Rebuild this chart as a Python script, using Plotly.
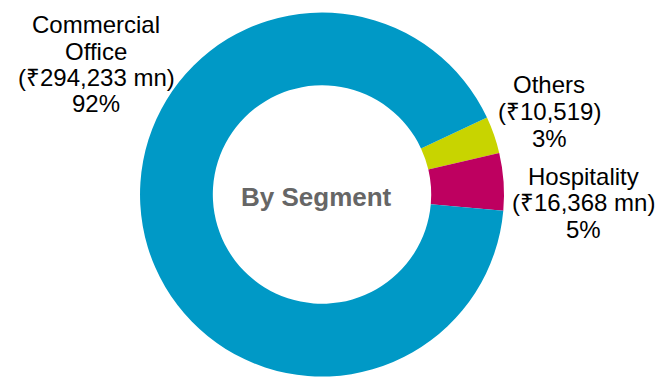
import plotly.graph_objects as go

# Segment breakdown (₹ million)
segments = ["Others", "Hospitality", "Commercial Office"]
values = [10519, 16368, 294233]
value_suffix = ["", " mn", " mn"]
label_lines = [["Others"], ["Hospitality"], ["Commercial", "Office"]]
colors = ["#C8D400", "#BE0060", "#0099C6"]

W, H = 658, 377
total = sum(values)

fig = go.Figure(
    go.Pie(
        labels=segments,
        values=values,
        sort=False,
        direction="clockwise",
        rotation=65,
        hole=0.6,
        marker=dict(colors=colors, line=dict(color="white", width=0)),
        textinfo="none",
        hoverinfo="label+value+percent",
        showlegend=False,
        domain=dict(x=[0.2128, 0.766], y=[0.0, 0.968]),
    )
)

# label blocks: (centre x px, first line y px, line step px)
label_pos = [(549, 85, 26.5), (583, 176, 26.5), (96, 25, 26.3)]

annotations = []
for i, seg in enumerate(segments):
    pct = round(values[i] / total * 100)
    lines = label_lines[i] + [f"(₹{values[i]:,}{value_suffix[i]})", f"{pct}%"]
    cx, y0, step = label_pos[i]
    for k, line in enumerate(lines):
        annotations.append(
            dict(
                text=line,
                x=cx / W,
                y=1 - (y0 + k * step) / H,
                xref="paper",
                yref="paper",
                xanchor="center",
                yanchor="middle",
                showarrow=False,
                font=dict(family="Liberation Sans, Arial, sans-serif", size=24, color="#000000"),
            )
        )

annotations.append(
    dict(
        text="<b>By Segment</b>",
        x=316 / W,
        y=1 - 197 / H,
        xref="paper",
        yref="paper",
        xanchor="center",
        yanchor="middle",
        showarrow=False,
        font=dict(family="Liberation Sans, Arial, sans-serif", size=26, color="#666666"),
    )
)

fig.update_layout(
    width=W,
    height=H,
    margin=dict(l=0, r=0, t=0, b=0),
    paper_bgcolor="white",
    plot_bgcolor="white",
    annotations=annotations,
)

fig.write_html("out.html")
